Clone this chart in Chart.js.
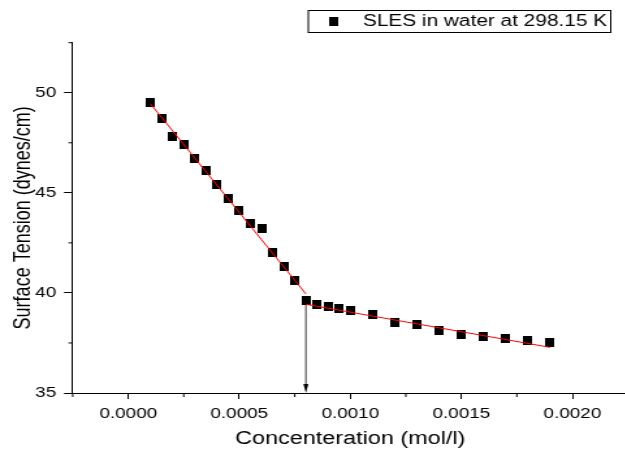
<!DOCTYPE html>
<html>
<head>
<meta charset="utf-8">
<script src="https://cdn.jsdelivr.net/npm/chart.js@4/dist/chart.umd.min.js"></script>
<style>
  html, body { margin: 0; padding: 0; overflow: hidden; background: #fff; }
</style>
</head>
<body>
<canvas id="chart" width="492" height="450" style="display:block;width:639.6px;height:450px"></canvas>
<script>
// measured surface tension of SLES solutions
const concentration = [0.0001, 0.00015, 0.0002, 0.00025, 0.0003, 0.00035, 0.0004, 0.00045, 0.0005, 0.00055,
  0.0006, 0.00065, 0.0007, 0.00075, 0.0008, 0.00085, 0.0009, 0.00095, 0.001, 0.0011,
  0.0012, 0.0013, 0.0014, 0.0015, 0.0016, 0.0017, 0.0018, 0.0019];
const surfaceTension = [49.5, 48.7, 47.8, 47.4, 46.7, 46.1, 45.4, 44.7, 44.1, 43.45,
  43.2, 42.0, 41.3, 40.6, 39.6, 39.4, 39.3, 39.2, 39.1, 38.9,
  38.5, 38.4, 38.1, 37.9, 37.8, 37.7, 37.6, 37.5];

// linear fits below and above the CMC
const fitBelowX = [0.0001, 0.0008];
const fitBelowY = [49.45, 39.95];
const fitAboveX = [0.0008, 0.0019];
const fitAboveY = [39.43, 37.28];

// arrow marking the CMC
const cmcX = 0.0008;
const cmcArrowY = [39.45, 35];

const xTicks = [0, 0.0005, 0.001, 0.0015, 0.002];
const xMinorTicks = [-0.00025, 0.00025, 0.00075, 0.00125, 0.00175, 0.00225];
const yTicks = [35, 40, 45, 50];
const yMinorTicks = [37.5, 42.5, 47.5, 52.5];

const seriesLabel = 'SLES in water at 298.15 K';

const FONT = "'Liberation Sans', Arial, Helvetica, sans-serif";
Chart.defaults.font.family = FONT;
Chart.defaults.color = '#000';

// small black square used for the data points
const marker = document.createElement('canvas');
marker.width = 7;
marker.height = 9;
const mctx = marker.getContext('2d');
mctx.fillStyle = '#000';
mctx.fillRect(0, 0, 7, 9);

const toPoints = (xs, ys) => xs.map((x, i) => ({x: x, y: ys[i]}));

const minorTicks = {
  id: 'minorTicks',
  afterDraw(chart) {
    const {ctx, chartArea, scales: {x, y}} = chart;
    ctx.save();
    ctx.strokeStyle = '#000';
    ctx.lineWidth = 1;
    ctx.beginPath();
    xMinorTicks.forEach(v => {
      const px = x.getPixelForValue(v);
      ctx.moveTo(px, chartArea.bottom);
      ctx.lineTo(px, chartArea.bottom + 4);
    });
    yMinorTicks.forEach(v => {
      const py = y.getPixelForValue(v);
      ctx.moveTo(chartArea.left - 3.3, py);
      ctx.lineTo(chartArea.left, py);
    });
    ctx.stroke();
    ctx.restore();
  }
};

const cmcArrow = {
  id: 'cmcArrow',
  beforeDatasetsDraw(chart) {
    const {ctx, scales: {x, y}} = chart;
    const px = x.getPixelForValue(cmcX);
    const top = y.getPixelForValue(cmcArrowY[0]);
    const tip = y.getPixelForValue(cmcArrowY[1]);
    ctx.save();
    ctx.strokeStyle = '#222';
    ctx.lineWidth = 0.9;
    ctx.beginPath();
    ctx.moveTo(px, top);
    ctx.lineTo(px, tip - 6);
    ctx.stroke();
    ctx.fillStyle = '#000';
    ctx.beginPath();
    ctx.moveTo(px - 1.9, tip - 9);
    ctx.lineTo(px + 1.9, tip - 9);
    ctx.lineTo(px, tip);
    ctx.closePath();
    ctx.fill();
    ctx.restore();
  }
};

const boxedLegend = {
  id: 'boxedLegend',
  afterDraw(chart) {
    const {ctx} = chart;
    ctx.save();
    ctx.strokeStyle = '#000';
    ctx.lineWidth = 1;
    ctx.strokeRect(237, 10.5, 232.5, 22);
    ctx.drawImage(marker, 256 - marker.width / 2, 21.5 - marker.height / 2);
    ctx.fillStyle = '#000';
    ctx.font = '16px ' + FONT;
    ctx.textBaseline = 'middle';
    ctx.textAlign = 'left';
    ctx.fillText(chart.data.datasets[2].label, 279, 22);
    ctx.restore();
  }
};

new Chart(document.getElementById('chart'), {
  type: 'scatter',
  data: {
    datasets: [
      {
        label: 'fit below CMC',
        data: toPoints(fitBelowX, fitBelowY),
        showLine: true,
        borderColor: '#ff0000',
        borderWidth: 1,
        pointRadius: 0,
        order: 0
      },
      {
        label: 'fit above CMC',
        data: toPoints(fitAboveX, fitAboveY),
        showLine: true,
        borderColor: '#ff0000',
        borderWidth: 1,
        pointRadius: 0,
        order: 0
      },
      {
        label: seriesLabel,
        data: toPoints(concentration, surfaceTension),
        pointStyle: marker,
        backgroundColor: '#000',
        borderColor: '#000',
        order: 1
      }
    ]
  },
  options: {
    responsive: false,
    animation: false,
    events: [],
    layout: {padding: {left: 0, right: 9.3, top: 42.7, bottom: 0}},
    plugins: {
      legend: {display: false},
      tooltip: {enabled: false}
    },
    scales: {
      x: {
        type: 'linear',
        min: -0.00025,
        max: 0.00225,
        afterBuildTicks: scale => { scale.ticks = xTicks.map(v => ({value: v})); },
        afterFit: scale => { scale.height = 57; },
        border: {display: true, color: '#000', width: 1},
        grid: {drawOnChartArea: false, drawTicks: true, tickLength: 6, tickColor: '#000', color: '#000'},
        ticks: {
          font: {size: 14.5},
          padding: 6.5,
          maxRotation: 0,
          callback: v => v.toFixed(4)
        },
        title: {
          display: true,
          text: 'Concenteration (mol/l)',
          font: {size: 18},
          padding: {top: 0, bottom: 0}
        }
      },
      y: {
        type: 'linear',
        min: 35,
        max: 52.5,
        afterBuildTicks: scale => { scale.ticks = yTicks.map(v => ({value: v})); },
        afterFit: scale => { scale.width = 55.9; },
        border: {display: true, color: '#000', width: 1},
        grid: {drawOnChartArea: false, drawTicks: true, tickLength: 6.7, tickColor: '#000', color: '#000'},
        ticks: {
          font: {size: 14.5},
          padding: 6,
          callback: v => String(v)
        },
        title: {
          display: true,
          text: 'Surface Tension (dynes/cm)',
          font: {size: 18},
          padding: {top: 7, bottom: 0}
        }
      }
    }
  },
  plugins: [minorTicks, cmcArrow, boxedLegend]
});
</script>
</body>
</html>
